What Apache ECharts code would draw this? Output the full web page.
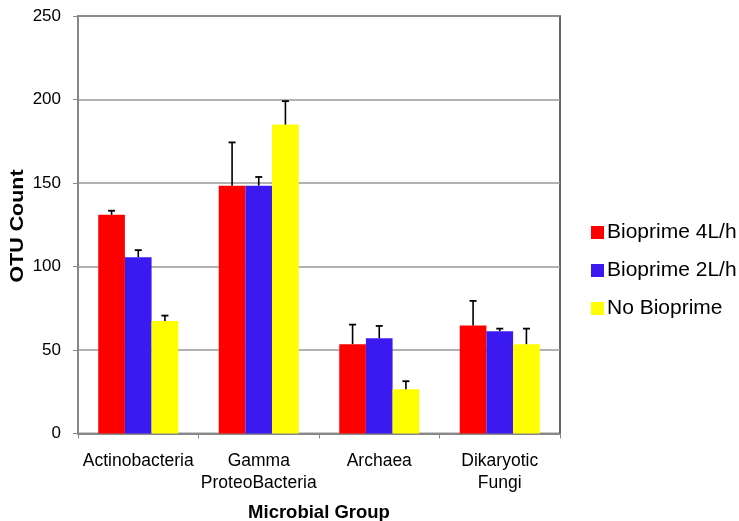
<!DOCTYPE html>
<html><head><meta charset="utf-8">
<script src="https://cdn.jsdelivr.net/npm/echarts@6/dist/echarts.min.js"></script>
<style>html,body{margin:0;padding:0;background:#fff}#c{width:739px;height:521px}</style>
</head><body><div id="c"></div>
<script>
const categories = ['Actinobacteria', 'Gamma\nProteoBacteria', 'Archaea', 'Dikaryotic\nFungi'];
const seriesNames = ['Bioprime 4L/h', 'Bioprime 2L/h', 'No Bioprime'];
const bioprime4 = [131, 148.4, 53.5, 64.6];
const bioprime2 = [105.6, 148.4, 57.1, 61.3];
const noBioprime = [67.3, 185, 26.5, 53.5];
const err4 = [2.4, 25.9, 11.7, 14.8];
const err2 = [4.2, 5.2, 7.3, 1.5];
const errNo = [3.3, 14, 4.8, 9.3];
const yTicks = [0, 50, 100, 150, 200, 250];
const yAxisTitle = 'OTU Count';
const xAxisTitle = 'Microbial Group';
const colors = ['#ff0000', '#3a1af0', '#ffff00'];

const values = [bioprime4, bioprime2, noBioprime];
const errs = [err4, err2, errNo];
const gapFrac = 0.336;
const FONT = 'Liberation Sans, Arial, sans-serif';

const chart = echarts.init(document.getElementById('c'));
const series = [];
values.forEach((v, si) => {
  series.push({
    name: seriesNames[si], type: 'bar', data: v,
    barGap: '0%', barCategoryGap: (gapFrac * 100) + '%',
    itemStyle: { color: colors[si] }
  });
});
values.forEach((v, si) => {
  series.push({
    type: 'custom', silent: true, z: 5,
    data: v.map((val, i) => [i, val, val + errs[si][i]]),
    renderItem: function (params, api) {
      const i = api.value(0);
      const bandW = api.size([1, 0])[0];
      const bw = bandW * (1 - gapFrac) / 3;
      const base = api.coord([i, api.value(1)]);
      const top = api.coord([i, api.value(2)]);
      const x = base[0] + (si - 1) * bw;
      const cap = 3.5;
      return {
        type: 'group',
        children: [
          { type: 'line', shape: { x1: x, y1: base[1], x2: x, y2: top[1] }, style: { stroke: '#000', lineWidth: 1.6 } },
          { type: 'line', shape: { x1: x - cap, y1: top[1], x2: x + cap, y2: top[1] }, style: { stroke: '#000', lineWidth: 1.8 } }
        ]
      };
    }
  });
});

chart.setOption({
  animation: false,
  textStyle: { fontFamily: FONT, color: '#000' },
  grid: { left: 78, right: 179, top: 16, bottom: 87.5, show: true, borderColor: '#333', borderWidth: 1.5, backgroundColor: 'transparent', containLabel: false, outerBoundsMode: 'none' },
  legend: {
    orient: 'vertical', left: 586, top: 217, itemWidth: 13, itemHeight: 13, itemGap: 17,
    icon: 'rect', data: seriesNames,
    textStyle: { fontSize: 21, color: '#000', fontFamily: FONT, padding: [0, 0, 0, -2] }
  },
  graphic: [{
    type: 'text', x: 18, y: 226, rotation: Math.PI / 2, scaleX: 1.19,
    style: { text: yAxisTitle, font: 'bold 18px ' + FONT, fill: '#000', align: 'center', verticalAlign: 'middle' }
  }],
  xAxis: {
    type: 'category', data: categories,
    name: xAxisTitle, nameLocation: 'middle', nameGap: 70,
    nameTextStyle: { fontSize: 18.5, fontWeight: 'bold', color: '#000', fontFamily: FONT },
    axisLine: { lineStyle: { color: '#888', width: 2 } },
    axisTick: { show: true, alignWithLabel: false, length: 5, lineStyle: { color: '#888' } },
    axisLabel: { interval: 0, fontSize: 17.5, color: '#000', margin: 17, lineHeight: 22, fontFamily: FONT }
  },
  yAxis: {
    type: 'value', min: 0, max: 250, interval: 50,
    axisLine: { show: true, lineStyle: { color: '#888', width: 2 } },
    axisTick: { show: true, length: 5, lineStyle: { color: '#888' } },
    axisLabel: { fontSize: 17, color: '#000', margin: 17, fontFamily: FONT, formatter: v => yTicks.includes(v) ? String(v) : '' },
    splitLine: { lineStyle: { color: '#999', width: 1.5 } }
  },
  series: series
});
</script></body></html>
